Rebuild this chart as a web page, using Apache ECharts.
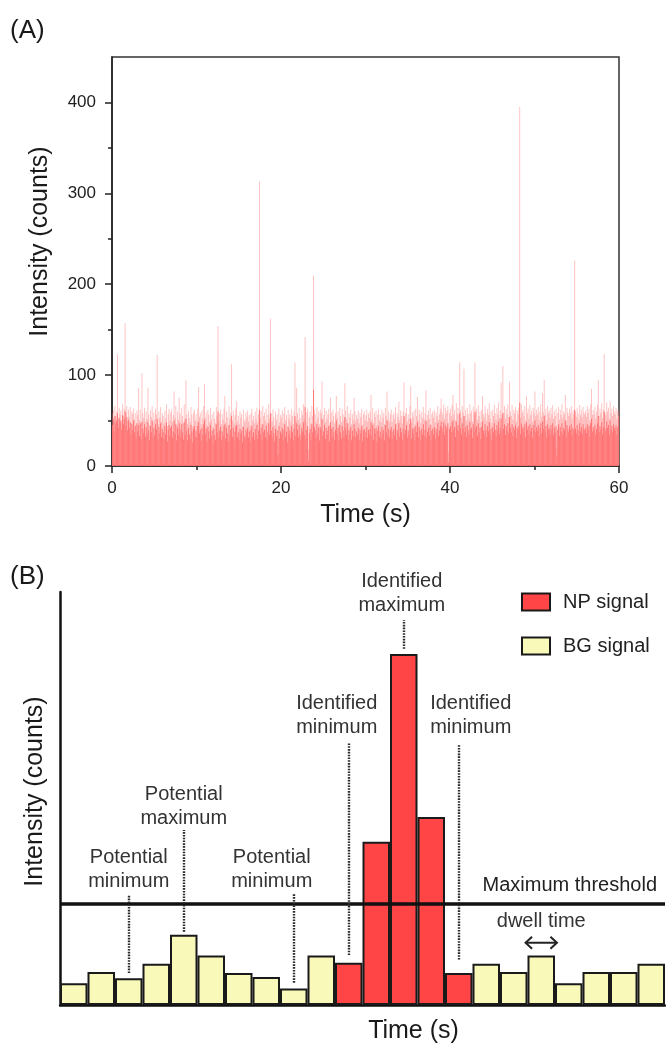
<!DOCTYPE html>
<html><head><meta charset="utf-8">
<script src="https://cdn.jsdelivr.net/npm/echarts@6/dist/echarts.min.js"></script>
<style>html,body{margin:0;padding:0;background:#fff}#c{width:666px;height:1045px}</style>
</head><body><div id="c"></div>
<script>
// ---------- Panel A: intensity trace (one value per 0.1 s) ----------
const timeStep = 0.1;
// upper (pale) level of each 0.1 s slot
const peakCounts = [
58,62,49,66,55,60,123,52,64,57, 61,47,68,55,63,157,59,66,50,62, 54,65,48,60,57,63,51,58,45,61,
56,86,50,62,47,102,58,53,64,49, 60,52,86,57,45,61,54,66,48,59, 51,63,57,122,46,60,53,65,49,58,
55,47,61,52,68,44,57,63,50,59, 62,48,56,82,53,66,45,60,51,75, 58,49,64,55,47,68,52,94,57,46,
61,53,48,65,56,44,59,62,50,57, 49,63,87,54,58,46,61,52,66,90, 53,59,45,62,56,48,64,51,57,43,
60,52,47,65,55,154,49,58,62,46, 57,51,63,77,48,60,54,45,66,52, 58,112,50,61,47,56,63,71,49,55,
46,60,53,57,44,62,51,48,59,54, 61,49,56,45,58,63,50,55,47,60, 52,64,48,57,313,53,61,46,66,55,
59,50,63,47,56,68,52,162,58,49, 62,54,45,60,51,57,30,63,48,56, 53,61,47,58,65,50,56,44,62,52,
57,49,63,55,46,60,114,51,86,58, 50,64,53,47,61,56,68,52,142,48, 59,63,18,54,60,47,66,55,210,62,
57,49,65,53,60,46,62,58,93,51, 56,64,48,61,52,57,63,45,75,59, 50,62,55,47,58,77,53,60,46,64,
55,48,63,57,50,91,61,52,66,47, 58,53,62,46,57,51,75,60,49,56, 52,61,47,58,54,63,45,57,60,50,
56,62,49,58,53,60,78,51,64,47, 59,54,61,45,57,63,50,56,48,62, 53,58,46,64,55,82,51,60,49,57,
62,48,56,59,52,65,47,58,54,71, 50,61,55,47,60,92,53,58,64,49, 57,52,66,88,48,59,54,61,46,63,
55,76,50,62,57,47,60,53,65,51, 58,83,49,56,61,52,64,46,57,60, 53,62,48,59,55,66,51,57,63,74,
60,56,68,52,64,58,61,66,15,59, 63,55,67,78,57,62,50,69,58,64, 56,114,61,53,66,59,107,55,62,50,
64,57,52,68,58,61,49,65,56,114, 59,63,51,67,55,60,48,62,77,57, 53,66,58,50,63,56,69,52,60,47,
62,55,67,58,51,64,57,70,53,61, 92,56,110,59,66,52,63,57,68,54, 93,60,55,67,51,62,58,65,49,61,
57,64,395,53,68,59,62,55,66,50, 77,58,63,52,67,56,61,49,64,58, 82,55,62,57,65,51,60,68,54,80,
59,95,56,63,50,66,58,61,53,64, 57,67,52,60,55,63,20,58,65,51, 62,56,68,53,60,57,78,50,64,59,
55,63,58,66,52,61,57,226,60,54, 64,58,51,67,56,62,53,65,59,57, 61,54,66,58,63,50,68,85,56,62,
57,65,52,60,67,95,55,63,58,69, 53,62,123,59,56,70,60,64,52,71, 58,63,55,66,60,57,64,52,61,62
];
// dense (solid) level of each 0.1 s slot
const baseCounts = [
45,52,38,55,47,50,58,42,53,48, 50,40,56,46,52,60,44,54,39,51, 42,48,35,46,40,50,37,44,31,47,
38,45,33,47,30,49,41,36,46,32, 43,35,48,39,28,44,37,50,31,42, 34,46,40,52,29,43,36,47,32,41,
37,30,44,35,48,27,40,45,33,42, 44,31,38,50,35,46,28,42,34,47, 40,32,46,37,29,48,34,52,39,28,
42,35,30,45,38,26,41,44,32,39, 31,44,48,36,40,28,42,34,46,50, 35,41,27,43,38,30,45,33,39,25,
41,34,29,46,37,60,31,39,43,28, 38,33,44,46,30,42,36,27,45,34, 40,55,32,42,29,38,44,45,31,37,
28,41,35,39,26,43,33,30,40,36, 42,31,38,27,40,44,32,37,29,41, 34,45,30,39,62,35,42,28,46,37,
40,32,44,29,38,47,34,58,39,31, 43,36,27,41,33,39,13,44,30,38, 35,42,29,40,46,32,38,26,43,34,
39,31,44,37,28,41,55,33,47,40, 32,45,35,29,42,38,48,34,65,30, 40,44,5,36,41,29,46,37,84,43,
39,31,46,35,42,28,43,40,52,33, 38,45,30,42,34,39,44,27,48,41, 32,43,37,29,40,50,35,42,28,45,
37,30,44,39,32,54,42,34,47,29, 40,35,43,28,39,33,46,41,31,38, 34,42,29,40,36,44,27,39,41,32,
38,43,31,40,35,41,48,33,45,29, 41,36,42,27,39,44,32,38,30,43, 35,40,28,45,37,50,33,41,31,39,
43,30,38,41,34,46,29,40,36,47, 32,42,37,29,41,55,35,40,45,31, 39,34,46,52,30,41,36,42,28,44,
37,48,32,43,39,29,41,35,46,33, 40,50,31,38,42,34,45,28,39,41, 35,43,30,41,37,47,33,39,44,49,
42,38,48,34,45,40,43,47,4,41, 44,37,48,50,39,43,32,49,40,45, 38,58,42,35,47,41,55,37,43,32,
45,39,34,48,40,42,31,46,38,60, 41,44,33,47,37,42,30,43,49,39, 35,46,40,32,44,38,48,34,41,29,
43,37,47,40,33,45,39,49,35,42, 52,38,58,41,46,34,44,39,47,36, 54,42,37,46,33,43,40,45,31,42,
39,44,70,35,47,41,43,37,46,32, 48,40,44,34,46,38,42,31,45,40, 50,37,43,39,45,33,42,47,36,49,
41,55,38,44,32,46,40,42,35,45, 39,47,34,42,37,44,11,40,46,33, 43,38,47,35,42,39,50,32,45,41,
37,44,40,46,34,42,39,62,41,36, 45,40,33,47,38,43,35,46,41,39, 42,36,46,40,44,32,47,52,38,43,
39,45,34,41,47,55,37,44,40,48, 35,43,60,41,38,49,42,45,34,50, 40,44,37,46,42,39,45,34,43,55
];
const xTicksA = [0, 20, 40, 60];
const yTicksA = [0, 100, 200, 300, 400];
const yMinorTicksA = [50, 150, 250, 350];

// ---------- Panel B: schematic bins ----------
const binCounts = [21,32,26,40,68,48,31,27,16,48,41,158,340,182,31,40,32,48,21,32,32,40];
const binClass  = ['BG','BG','BG','BG','BG','BG','BG','BG','BG','BG','NP','NP','NP','NP','NP','BG','BG','BG','BG','BG','BG','BG'];
const thresholdCount = 98;
const annotations = [
  {bin: 2,  text: 'Potential\nminimum'},
  {bin: 4,  text: 'Potential\nmaximum'},
  {bin: 8,  text: 'Potential\nminimum'},
  {bin: 10, text: 'Identified\nminimum'},
  {bin: 12, text: 'Identified\nmaximum'},
  {bin: 14, text: 'Identified\nminimum'}
];
const dwellBin = 17;

// ---------- build ----------
const FONT = "'Liberation Sans', Arial, Helvetica, sans-serif";
// layout of annotations (value units of panel B axis; dx in px)
const annLayout = [
  {labelY: 131.7, lineTop: 106.5, lineBottom: 31,   dx: 0},
  {labelY: 192,   lineTop: 169.5, lineBottom: 71,   dx: 0},
  {labelY: 131.7, lineTop: 107.5, lineBottom: 21.6, dx: -22},
  {labelY: 280,   lineTop: 254,   lineBottom: 48.4, dx: -12},
  {labelY: 399,   lineTop: 373,   lineBottom: 345,  dx: -2},
  {labelY: 280,   lineTop: 252,   lineBottom: 44,   dx: 12}
];
const dwellLabelY = 80.7, dwellArrowY = 60.3;

const peakData = peakCounts.map((v, i) => [(i + 0.5) * timeStep, v]);
const baseData = baseCounts.map((v, i) => [(i + 0.5) * timeStep, v]);
const binLabels = binCounts.map((_, i) => String(i + 1));
const npData = binCounts.map((v, i) => binClass[i] === 'NP' ? v : '-');
const bgData = binCounts.map((v, i) => binClass[i] === 'BG' ? v : '-');

const dotted = {type: [1.6, 1.2], width: 2.4, color: '#2a2a2a'};
const markLines = [{
  yAxis: thresholdCount,
  lineStyle: {type: 'solid', width: 3.5, color: '#111'},
  label: {show: true, position: 'insideEndTop', formatter: 'Maximum threshold',
          fontSize: 20, color: '#222', fontFamily: FONT, distance: [8, 8]}
}];
annotations.forEach((a, k) => {
  const L = annLayout[k];
  markLines.push([
    {coord: [a.bin, L.lineBottom], lineStyle: dotted, label: {show: false}},
    {coord: [a.bin, L.lineTop]}
  ]);
});
const markPoints = annotations.map((a, k) => ({
  coord: [a.bin, annLayout[k].labelY],
  label: {show: true, position: 'inside', formatter: a.text, offset: [annLayout[k].dx, 0],
          fontSize: 20, lineHeight: 24, color: '#333', fontFamily: FONT}
}));
markPoints.push({
  coord: [dwellBin, dwellLabelY],
  label: {show: true, position: 'inside', formatter: 'dwell time',
          fontSize: 20, lineHeight: 24, color: '#333', fontFamily: FONT}
});

const axisCol = '#222';
const chart = echarts.init(document.getElementById('c'), null, {renderer: 'canvas'});
chart.setOption({
  animation: false,
  backgroundColor: '#fff',
  textStyle: {fontFamily: FONT},
  title: [
    {text: '(A)', left: 10, top: 18, padding: 0, textStyle: {fontSize: 26, fontWeight: 'normal', color: '#1a1a1a', fontFamily: FONT}},
    {text: '(B)', left: 10, top: 564, padding: 0, textStyle: {fontSize: 26, fontWeight: 'normal', color: '#1a1a1a', fontFamily: FONT}}
  ],
  legend: {
    data: ['NP signal', 'BG signal'], orient: 'vertical', left: 521, top: 592, padding: 0,
    itemWidth: 28, itemHeight: 17, itemGap: 24, icon: 'rect', selectedMode: false,
    textStyle: {fontSize: 20, color: '#222', fontFamily: FONT, padding: [0, 0, 0, 8]}
  },
  grid: [
    {left: 112, right: 47, top: 57, height: 409, show: true, borderColor: '#333', borderWidth: 1.5, backgroundColor: 'transparent'},
    {left: 60, right: 1, top: 592, height: 413}
  ],
  xAxis: [
    {gridIndex: 0, type: 'value', min: xTicksA[0], max: xTicksA[xTicksA.length - 1], interval: 20,
     name: 'Time (s)', nameLocation: 'middle', nameGap: 37,
     nameTextStyle: {fontSize: 25, color: '#1a1a1a', fontFamily: FONT},
     axisLine: {show: true, onZero: false, lineStyle: {color: axisCol, width: 1.5}},
     axisTick: {show: true, length: 7, lineStyle: {color: axisCol, width: 1.5}},
     minorTick: {show: true, splitNumber: 2, length: 4, lineStyle: {color: axisCol, width: 1.5}},
     axisLabel: {fontSize: 17, color: '#222', margin: 14, fontFamily: FONT},
     splitLine: {show: false}},
    {gridIndex: 1, type: 'category', data: binLabels, boundaryGap: true,
     name: 'Time (s)', nameLocation: 'middle', nameGap: 14,
     nameTextStyle: {fontSize: 25, color: '#1a1a1a', fontFamily: FONT, padding: [0, 0, 0, 102]},
     axisLine: {show: true, lineStyle: {color: '#111', width: 2.5}},
     axisTick: {show: false}, axisLabel: {show: false}, splitLine: {show: false}}
  ],
  yAxis: [
    {gridIndex: 0, type: 'value', min: 0, max: 450, position: 'left',
     name: 'Intensity (counts)', nameLocation: 'middle', nameGap: 59,
     nameTextStyle: {fontSize: 25, color: '#1a1a1a', fontFamily: FONT, padding: [0, 0, 0, 40]},
     axisLine: {show: true, lineStyle: {color: axisCol, width: 1.5}},
     axisTick: {show: true, length: 7, customValues: yTicksA, lineStyle: {color: axisCol, width: 1.5}},
     axisLabel: {customValues: yTicksA, fontSize: 17, color: '#222', margin: 16, fontFamily: FONT},
     splitLine: {show: false}},
    {gridIndex: 0, type: 'value', min: 0, max: 450, position: 'left',
     axisLine: {show: false},
     axisTick: {show: true, length: 4, customValues: yMinorTicksA, lineStyle: {color: axisCol, width: 1.5}},
     axisLabel: {show: false}, splitLine: {show: false}},
    {gridIndex: 1, type: 'value', min: 0, max: 400,
     name: 'Intensity (counts)', nameLocation: 'middle', nameGap: 12,
     nameTextStyle: {fontSize: 25, color: '#1a1a1a', fontFamily: FONT, padding: [0, 0, 0, 14]},
     axisLine: {show: true, lineStyle: {color: '#111', width: 2.5}},
     axisTick: {show: false}, axisLabel: {show: false}, splitLine: {show: false}}
  ],
  series: [
    {type: 'bar', xAxisIndex: 0, yAxisIndex: 0, data: peakData, barWidth: 1, barGap: '-100%',
     itemStyle: {color: 'rgba(255,112,112,0.42)'}, silent: true},
    {type: 'bar', xAxisIndex: 0, yAxisIndex: 0, data: baseData, barWidth: 1, barGap: '-100%',
     itemStyle: {color: '#ff7474'}, silent: true},
    {name: 'NP signal', type: 'bar', xAxisIndex: 1, yAxisIndex: 2, data: npData,
     barCategoryGap: '0%', barGap: '-100%',
     itemStyle: {color: '#ff4545', borderColor: '#1a1a1a', borderWidth: 2}},
    {name: 'BG signal', type: 'bar', xAxisIndex: 1, yAxisIndex: 2, data: bgData,
     barCategoryGap: '0%', barGap: '-100%',
     itemStyle: {color: '#f9f9b9', borderColor: '#1a1a1a', borderWidth: 2},
     markLine: {silent: true, symbol: ['none', 'none'], animation: false, data: markLines},
     markPoint: {silent: true, symbol: 'circle', symbolSize: 1, itemStyle: {color: 'rgba(0,0,0,0)'},
                 animation: false, data: markPoints}}
  ]
});

// dwell-time double arrow across one bin
const c0 = chart.convertToPixel({seriesIndex: 3}, [dwellBin, dwellArrowY]);
const c1 = chart.convertToPixel({seriesIndex: 3}, [dwellBin + 1, dwellArrowY]);
const band = c1[0] - c0[0];
const x1 = c0[0] - band * 0.57, x2 = c0[0] + band * 0.57, y = c0[1];
const st = {stroke: '#222', lineWidth: 2, fill: null};
chart.setOption({graphic: [
  {type: 'polyline', shape: {points: [[x1, y], [x2, y]]}, style: st, silent: true},
  {type: 'polyline', shape: {points: [[x1 + 6.5, y - 6], [x1, y], [x1 + 6.5, y + 6]]}, style: st, silent: true},
  {type: 'polyline', shape: {points: [[x2 - 6.5, y - 6], [x2, y], [x2 - 6.5, y + 6]]}, style: st, silent: true}
]});
</script></body></html>
